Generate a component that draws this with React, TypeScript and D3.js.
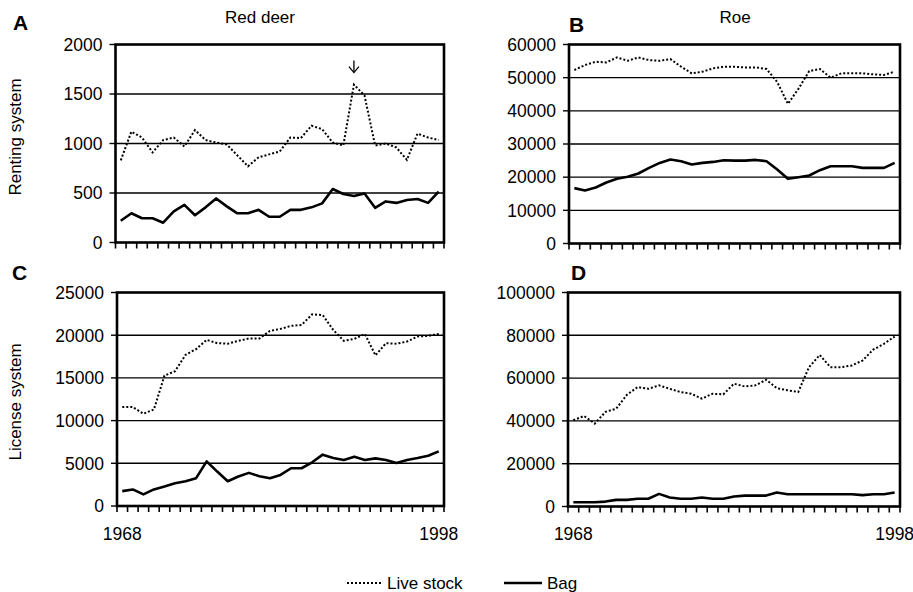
import React from "react";
import * as d3 from "d3";

const years = [1968,1969,1970,1971,1972,1973,1974,1975,1976,1977,1978,1979,1980,1981,1982,1983,1984,1985,1986,1987,1988,1989,1990,1991,1992,1993,1994,1995,1996,1997,1998];

const redDeerRentLive = [830,1120,1060,910,1035,1060,970,1135,1035,1010,990,880,770,860,890,920,1060,1055,1180,1145,1010,980,1595,1485,980,1000,960,835,1100,1060,1035];
const redDeerRentBag = [220,295,245,245,200,315,380,275,355,445,365,295,295,330,260,260,330,330,355,395,540,490,470,495,350,415,400,430,440,400,515];

const roeRentLive = [52300,53800,54800,54600,56100,55100,56100,55300,55100,55600,53300,51300,51800,52800,53300,53300,53100,53100,52600,48700,42100,46700,52000,52600,50000,51300,51300,51300,51000,50800,51800];
const roeRentBag = [16700,16000,16900,18400,19500,20100,21100,22800,24300,25300,24800,23800,24300,24600,25100,25000,25000,25200,24800,22300,19500,20000,20500,22100,23300,23300,23300,22800,22800,22800,24300];

const redDeerLicLive = [11590,11590,10800,11300,15270,15780,17700,18370,19460,19070,19000,19340,19610,19610,20500,20740,21090,21200,22440,22360,20620,19340,19570,20150,17640,19070,19000,19260,19850,19920,20150];
const redDeerLicBag = [1740,1940,1360,1940,2290,2670,2900,3260,5230,4030,2900,3450,3880,3490,3260,3640,4420,4420,5120,6010,5620,5390,5780,5390,5580,5390,5040,5390,5620,5890,6400];

const roeLicLive = [40300,42300,38750,44200,45700,52200,55800,55000,56600,55000,53500,52700,50400,52700,52400,57400,56100,56600,59200,55300,54300,53500,65100,70800,65100,65100,65900,68200,73300,76000,79400];
const roeLicBag = [2000,2000,2000,2300,3100,3100,3600,3600,5900,4200,3600,3600,4200,3600,3600,4700,5100,5100,5100,6500,5700,5700,5700,5700,5700,5700,5700,5300,5700,5700,6500];

const ticksA = [0,500,1000,1500,2000];
const ticksB = [0,10000,20000,30000,40000,50000,60000];
const ticksC = [0,5000,10000,15000,20000,25000];
const ticksD = [0,20000,40000,60000,80000,100000];

const FONT = "Liberation Sans, Arial, Helvetica, sans-serif";

type PanelProps = {
  left: number; right: number; top: number; bottom: number;
  ymax: number; ticks: number[]; live: number[]; bag: number[];
  showYears?: boolean;
};

function Panel({ left, right, top, bottom, ymax, ticks, live, bag, showYears }: PanelProps) {
  const x = d3.scaleBand<number>().domain(years).range([left, right]).padding(0);
  const y = d3.scaleLinear().domain([0, ymax]).range([bottom, top]);
  const bw = x.bandwidth();
  const cx = (yr: number) => (x(yr) as number) + bw / 2;
  const line = d3.line<number>().x((_, i) => cx(years[i])).y((d) => y(d));
  const boundaries = years.map((yr) => x(yr) as number).concat([right]);
  return (
    <g>
      {ticks.filter((t) => t > 0 && t < ymax).map((t) => (
        <line key={"g" + t} x1={left} x2={right} y1={y(t)} y2={y(t)} stroke="#000" strokeWidth={1.4} />
      ))}
      <rect x={left} y={top} width={right - left} height={bottom - top} fill="none" stroke="#000" strokeWidth={2.6} />
      {ticks.map((t) => (
        <g key={"t" + t}>
          <line x1={left - 6} x2={left} y1={y(t)} y2={y(t)} stroke="#000" strokeWidth={1.4} />
          <text x={left - 13} y={y(t)} dy="0.36em" textAnchor="end" fontSize={17.5} fontFamily={FONT}>{t}</text>
        </g>
      ))}
      {boundaries.map((bx, i) => (
        <line key={"x" + i} x1={bx} x2={bx} y1={bottom} y2={bottom + 6} stroke="#000" strokeWidth={1.6} />
      ))}
      <path d={line(live) || ""} fill="none" stroke="#000" strokeWidth={2} strokeDasharray="2,2" />
      <path d={line(bag) || ""} fill="none" stroke="#000" strokeWidth={2.6} strokeLinejoin="round" />
      {showYears && (
        <g fontSize={17.5} fontFamily={FONT} textAnchor="middle">
          <text x={cx(years[0])} y={540}>{years[0]}</text>
          <text x={cx(years[years.length - 1])} y={540}>{years[years.length - 1]}</text>
        </g>
      )}
    </g>
  );
}

export default function App() {
  const ya = d3.scaleLinear().domain([0, 2000]).range([242.5, 44.5]);
  const xa = d3.scaleBand<number>().domain(years).range([115.5, 444]).padding(0);
  const peakIdx = redDeerRentLive.indexOf(d3.max(redDeerRentLive) as number);
  const arrowX = (xa(years[peakIdx]) as number) + xa.bandwidth() / 2;
  const arrowTip = ya(d3.max(redDeerRentLive) as number) - 12;
  return (
    <svg width={913} height={592} style={{ position: "absolute", left: 0, top: 0, background: "#fff" }} fontFamily={FONT}>
      <rect width={913} height={592} fill="#fff" />
      <text x={13} y={30} fontSize={21} fontWeight="bold">A</text>
      <text x={569} y={32} fontSize={21} fontWeight="bold">B</text>
      <text x={12} y={280} fontSize={21} fontWeight="bold">C</text>
      <text x={571} y={280} fontSize={21} fontWeight="bold">D</text>
      <text x={260} y={23} fontSize={17} textAnchor="middle">Red deer</text>
      <text x={735} y={23} fontSize={17} textAnchor="middle">Roe</text>
      <text transform="translate(21,137) rotate(-90)" fontSize={17} textAnchor="middle">Renting system</text>
      <text transform="translate(21,402) rotate(-90)" fontSize={17} textAnchor="middle">License system</text>

      <Panel left={115.5} right={444} top={44.5} bottom={242.5} ymax={2000} ticks={ticksA} live={redDeerRentLive} bag={redDeerRentBag} />
      <Panel left={569} right={900} top={44.5} bottom={243.5} ymax={60000} ticks={ticksB} live={roeRentLive} bag={roeRentBag} />
      <Panel left={117} right={444} top={292.5} bottom={506} ymax={25000} ticks={ticksC} live={redDeerLicLive} bag={redDeerLicBag} showYears />
      <Panel left={568} right={900} top={292.5} bottom={506.5} ymax={100000} ticks={ticksD} live={roeLicLive} bag={roeLicBag} showYears />

      <g stroke="#000" strokeWidth={1.3} fill="none">
        <line x1={arrowX} x2={arrowX} y1={arrowTip - 12} y2={arrowTip} />
        <polyline points={`${arrowX - 5},${arrowTip - 6} ${arrowX},${arrowTip} ${arrowX + 5},${arrowTip - 6}`} />
      </g>

      <line x1={347} x2={383} y1={583} y2={583} stroke="#000" strokeWidth={2} strokeDasharray="2,2" />
      <text x={387} y={589} fontSize={17}>Live stock</text>
      <line x1={504} x2={542} y1={583} y2={583} stroke="#000" strokeWidth={2.6} />
      <text x={547} y={589} fontSize={17}>Bag</text>
    </svg>
  );
}
